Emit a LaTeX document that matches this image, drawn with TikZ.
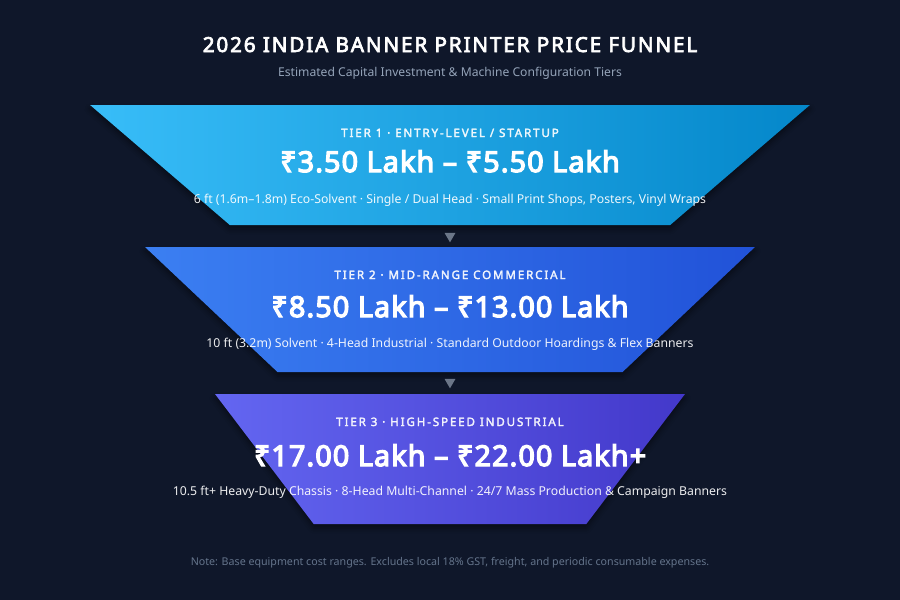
\documentclass[tikz,border=0pt]{standalone}
\usepackage{fontspec}
\setmainfont{Noto Sans}[BoldFont={Noto Sans}, BoldFeatures={FakeBold=2.6}]
\newfontfamily\heavyfont{Noto Sans}[FakeBold=4.5, LetterSpace=4]
\newfontfamily\titlefont{Noto Sans}[FakeBold=3.4, LetterSpace=9]
\usetikzlibrary{shapes.geometric,shadows.blur}

\definecolor{bgnavy}{HTML}{0F172A}
\definecolor{skyL}{HTML}{38BDF8}
\definecolor{skyR}{HTML}{0487CA}
\definecolor{blueL}{HTML}{3B7FF2}
\definecolor{blueR}{HTML}{2152D8}
\definecolor{indL}{HTML}{6366F1}
\definecolor{indR}{HTML}{4338CA}
\definecolor{subgray}{HTML}{94A3B8}
\definecolor{notegray}{HTML}{64748B}
\definecolor{markgray}{HTML}{6B7688}

\begin{document}
\begin{tikzpicture}[x=0.75pt, y=-0.75pt,
 tier/.style   = {trapezium, trapezium stretches=true, inner sep=2pt, outer sep=0pt,
                  blur shadow={shadow xshift=0pt, shadow yshift=-3pt,
                               shadow blur radius=4pt, shadow opacity=45}},
 marker/.style = {regular polygon, regular polygon sides=3, shape border rotate=180,
                  fill=markgray, minimum size=9.5pt, inner sep=0pt},
 ttl/.style    = {text=white, anchor=base, font=\titlefont\fontsize{15.5}{18}\selectfont},
 subttl/.style = {text=subgray, anchor=base, font=\fontsize{9.1}{11}\selectfont},
 tierlbl/.style= {text=white, text opacity=0.88, anchor=base,
                  font=\fontsize{8.7}{10}\selectfont\bfseries\addfontfeatures{LetterSpace=16}},
 price/.style  = {text=white, anchor=base, font=\heavyfont\fontsize{21.5}{24}\selectfont},
 desc/.style   = {text=white, text opacity=0.92, anchor=base, font=\fontsize{9.2}{11}\selectfont},
 note/.style   = {text=notegray, anchor=base, font=\fontsize{8}{10}\selectfont},
                        ]

    \fill[bgnavy] (0,0) rectangle (900,600);
    \useasboundingbox (0,0) rectangle (900,600);

    \node [ttl]    (title) at (450,52) {2026 INDIA BANNER PRINTER PRICE FUNNEL};
    \node [subttl] (sub)   at (450,76) {Estimated Capital Investment \& Machine Configuration Tiers};

    % funnel tiers
    \node [tier, minimum width=540pt, minimum height=90pt,
           trapezium left angle=107.6, trapezium right angle=107.6,
           left color=skyL, right color=skyR]   (t1) at (450,165) {};
    \node [tier, minimum width=457.5pt, minimum height=93.75pt,
           trapezium left angle=111, trapezium right angle=111,
           left color=blueL, right color=blueR] (t2) at (450,309.5) {};
    \node [tier, minimum width=352.5pt, minimum height=97.5pt,
           trapezium left angle=109.9, trapezium right angle=109.9,
           left color=indL, right color=indR]   (t3) at (450,459) {};

    \node [marker] (m1) at (450,236) {};
    \node [marker] (m2) at (450,382) {};

    \node [tierlbl] (t1lbl)   at (450,137) {TIER 1 · ENTRY-LEVEL / STARTUP};
    \node [price]   (t1price) at (450,172) {₹3.50 Lakh – ₹5.50 Lakh};
    \node [desc]    (t1desc)  at (450,203) {6 ft (1.6m–1.8m) Eco-Solvent · Single / Dual Head · Small Print Shops, Posters, Vinyl Wraps};

    \node [tierlbl] (t2lbl)   at (450,279) {TIER 2 · MID-RANGE COMMERCIAL};
    \node [price]   (t2price) at (450,317) {₹8.50 Lakh – ₹13.00 Lakh};
    \node [desc]    (t2desc)  at (450,347) {10 ft (3.2m) Solvent · 4-Head Industrial · Standard Outdoor Hoardings \& Flex Banners};

    \node [tierlbl] (t3lbl)   at (450,426) {TIER 3 · HIGH-SPEED INDUSTRIAL};
    \node [price]   (t3price) at (450,466) {₹17.00 Lakh – ₹22.00 Lakh+};
    \node [desc]    (t3desc)  at (450,495) {10.5 ft+ Heavy-Duty Chassis · 8-Head Multi-Channel · 24/7 Mass Production \& Campaign Banners};

    \node [note] (foot) at (450,565) {Note: Base equipment cost ranges. Excludes local 18\% GST, freight, and periodic consumable expenses.};
\end{tikzpicture}
\end{document}
